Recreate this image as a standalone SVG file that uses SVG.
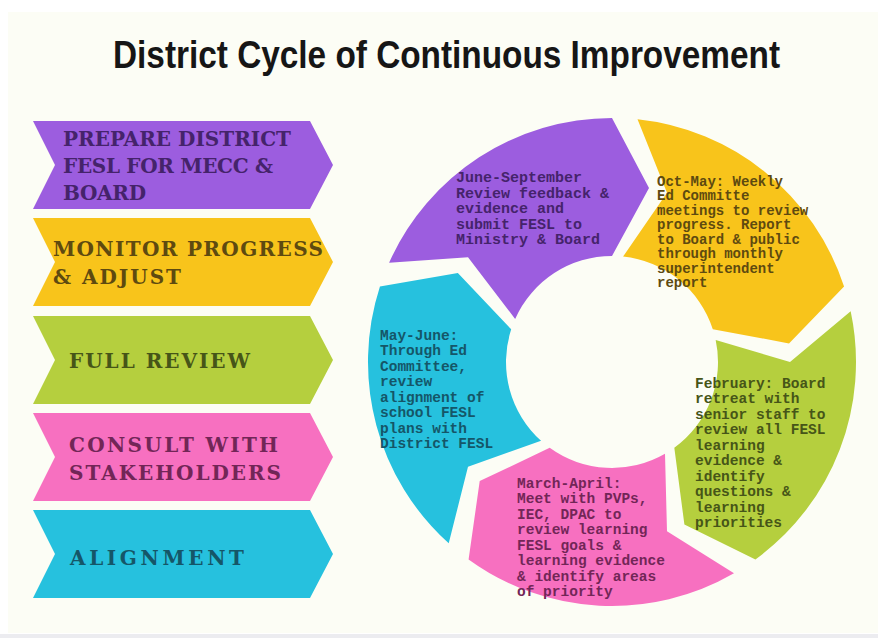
<svg xmlns="http://www.w3.org/2000/svg" width="878" height="638" viewBox="0 0 878 638">
<style>
.lbl{font-family:"DejaVu Serif","Liberation Serif",serif;font-weight:700;font-size:20px}
.ct{font-family:"Liberation Mono","DejaVu Sans Mono",monospace;font-weight:700;font-size:14.5px}
.title{font-family:"Liberation Sans","Arial",sans-serif;font-weight:700;font-size:38px;fill:#161616}
.pu{fill:#9c5ddf}.ye{fill:#f8c41b}.gr{fill:#b5cf3e}.pk{fill:#f770c0}.cy{fill:#26c1de}
.tpu{fill:#45236b}.tye{fill:#5e4a10}.tgr{fill:#465518}.tpk{fill:#722657}.tcy{fill:#155668}
</style>
<rect x="0" y="0" width="878" height="638" fill="#ffffff"/>
<rect x="8" y="12" width="870" height="621" fill="#fcfdf5"/>
<rect x="0" y="634" width="878" height="4" fill="#ececf0"/>
<text class="title" x="113" y="68" textLength="667" lengthAdjust="spacingAndGlyphs">District Cycle of Continuous Improvement</text>

<g id="left-prepare">
<path class="pu" d="M33,121 H310 L333,165 L310,209 H33 L55,165 Z"/>
<text class="lbl tpu" x="63" y="146" textLength="228" lengthAdjust="spacing">PREPARE DISTRICT</text>
<text class="lbl tpu" x="63" y="173" textLength="210" lengthAdjust="spacing">FESL FOR MECC &amp;</text>
<text class="lbl tpu" x="63" y="200" textLength="83" lengthAdjust="spacing">BOARD</text>
</g>
<g id="left-monitor">
<path class="ye" d="M33,218 H310 L333,262 L310,306 H33 L55,262 Z"/>
<text class="lbl tye" x="53" y="256" textLength="270" lengthAdjust="spacing">MONITOR PROGRESS</text>
<text class="lbl tye" x="53" y="284" textLength="128" lengthAdjust="spacing">&amp; ADJUST</text>
</g>
<g id="left-review">
<path class="gr" d="M33,316 H310 L333,360 L310,404 H33 L55,360 Z"/>
<text class="lbl tgr" x="69" y="368" textLength="181" lengthAdjust="spacing">FULL REVIEW</text>
</g>
<g id="left-consult">
<path class="pk" d="M33,413 H310 L333,457 L310,501 H33 L55,457 Z"/>
<text class="lbl tpk" x="69" y="452" textLength="209" lengthAdjust="spacing">CONSULT WITH</text>
<text class="lbl tpk" x="69" y="480" textLength="212" lengthAdjust="spacing">STAKEHOLDERS</text>
</g>
<g id="left-alignment">
<path class="cy" d="M33,510 H310 L333,554 L310,598 H33 L55,554 Z"/>
<text class="lbl tcy" x="70" y="565" textLength="174" lengthAdjust="spacing">ALIGNMENT</text>
</g>

<g id="seg-june">
<path class="pu" d="M389.09,262.76 A244,244 0 0 1 612,118 L649.01,187.89 L612,256 A106,106 0 0 0 515.16,318.89 L468,257.37 Z"/>
<text class="ct tpu" style="font-size:15px">
<tspan x="456" y="182">June-September</tspan>
<tspan x="456" y="197.5">Review feedback &amp;</tspan>
<tspan x="456" y="213">evidence and</tspan>
<tspan x="456" y="228.5">submit FESL to</tspan>
<tspan x="456" y="244">Ministry &amp; Board</tspan>
</text>
</g>
<g id="seg-oct">
<path class="ye" d="M637.51,119.34 A244,244 0 0 1 844.06,286.6 L789.02,343.39 L712.81,329.24 A106,106 0 0 0 623.08,256.58 L667,192.71 Z"/>
<text class="ct tye" style="font-size:14px">
<tspan x="657" y="185.5">Oct-May: Weekly</tspan>
<tspan x="657" y="200">Ed Committe</tspan>
<tspan x="657" y="214.5">meetings to review</tspan>
<tspan x="657" y="229">progress.  Report</tspan>
<tspan x="657" y="243.5">to Board &amp; public</tspan>
<tspan x="657" y="258">through monthly</tspan>
<tspan x="657" y="272.5">superintendent</tspan>
<tspan x="657" y="287">report</tspan>
</text>
</g>
<g id="seg-feb">
<path class="gr" d="M850.67,311.27 A244,244 0 0 1 755.42,559.4 L684.4,524.61 L674.31,447.76 A106,106 0 0 0 715.68,339.96 L790,362 Z"/>
<text class="ct tgr">
<tspan x="695" y="387.5">February:  Board</tspan>
<tspan x="695" y="403">retreat with</tspan>
<tspan x="695" y="418.5">senior staff to</tspan>
<tspan x="695" y="434">review all FESL</tspan>
<tspan x="695" y="449.5">learning</tspan>
<tspan x="695" y="465">evidence &amp;</tspan>
<tspan x="695" y="480.5">identify</tspan>
<tspan x="695" y="496">questions &amp;</tspan>
<tspan x="695" y="511.5">learning</tspan>
<tspan x="695" y="527">priorities</tspan>
</text>
</g>
<g id="seg-march">
<path class="pk" d="M734,573.31 A244,244 0 0 1 468.58,559.4 L479.72,481.11 L549.69,447.76 A106,106 0 0 0 665,453.8 L667,531.29 Z"/>
<text class="ct tpk">
<tspan x="517" y="487.5">March-April:</tspan>
<tspan x="517" y="503">Meet with PVPs,</tspan>
<tspan x="517" y="518.5">IEC, DPAC to</tspan>
<tspan x="517" y="534">review learning</tspan>
<tspan x="517" y="549.5">FESL goals &amp;</tspan>
<tspan x="517" y="565">learning evidence</tspan>
<tspan x="517" y="580.5">&amp; identify areas</tspan>
<tspan x="517" y="596">of priority</tspan>
</text>
</g>
<g id="seg-may">
<path class="cy" d="M448.73,543.33 A244,244 0 0 1 379.94,286.6 L457.85,273 L511.19,329.24 A106,106 0 0 0 541.07,440.77 L468,466.63 Z"/>
<text class="ct tcy">
<tspan x="380" y="339.5">May-June:</tspan>
<tspan x="380" y="355">Through Ed</tspan>
<tspan x="380" y="370.5">Committee,</tspan>
<tspan x="380" y="386">review</tspan>
<tspan x="380" y="401.5">alignment of</tspan>
<tspan x="380" y="417">school FESL</tspan>
<tspan x="380" y="432.5">plans with</tspan>
<tspan x="380" y="448">District FESL</tspan>
</text>
</g>
<g id="connectors"/>
</svg>
